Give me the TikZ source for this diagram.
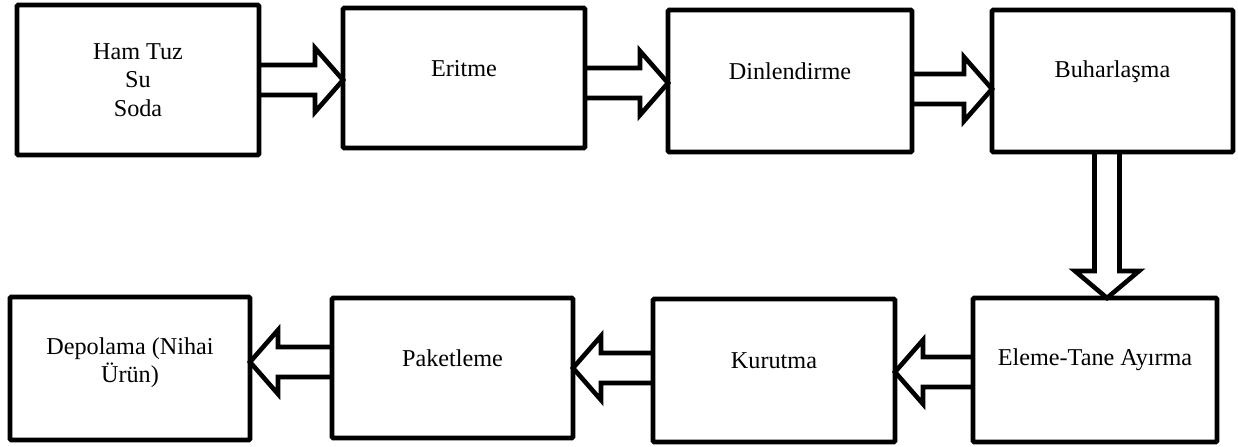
\documentclass[tikz,border=0pt]{standalone}
\usepackage{fontspec}
\setmainfont{Liberation Serif}
\usetikzlibrary{calc}
\tikzset{
  box/.style={draw, line width=2.4pt, inner sep=0pt, outer sep=0pt, rounded corners=0.6pt},
  lbl/.style={font=\fontsize{12.1}{14.3}\selectfont, align=center, inner sep=0pt},
  fat/.style={draw, line width=2.3pt, line join=miter},
  fatR/.style={fat, to path={
    ($(\tikztostart)+(0,-15)$) -- ($(\tikztotarget)+(-28,-15)$) -- ($(\tikztotarget)+(-28,-32)$) --
    (\tikztotarget) -- ($(\tikztotarget)+(-28,32)$) -- ($(\tikztotarget)+(-28,15)$) -- ($(\tikztostart)+(0,15)$)}},
  fatL/.style={fat, to path={
    ($(\tikztostart)+(0,-15)$) -- ($(\tikztotarget)+(28,-15)$) -- ($(\tikztotarget)+(28,-32)$) --
    (\tikztotarget) -- ($(\tikztotarget)+(28,32)$) -- ($(\tikztotarget)+(28,15)$) -- ($(\tikztostart)+(0,15)$)}},
  fatD/.style={fat, to path={
    ($(\tikztostart)+(-12.5,0)$) -- ($(\tikztotarget)+(-12.5,-27)$) -- ($(\tikztotarget)+(-32,-27)$) --
    (\tikztotarget) -- ($(\tikztotarget)+(32,-27)$) -- ($(\tikztotarget)+(12.5,-27)$) -- ($(\tikztostart)+(12.5,0)$)}},
}
\begin{document}
\begin{tikzpicture}[x=0.5pt, y=-0.5pt]
\useasboundingbox[fill=white] (0,0) rectangle (1238,446);
% top row
\node[box, minimum width=121pt, minimum height=75pt,
  label={[lbl, yshift=0pt]center:Ham Tuz\\Su\\Soda}] (b1) at (138,80) {};
\node[box, minimum width=121pt, minimum height=70pt,
  label={[lbl, yshift=4.5pt]center:Eritme}] (b2) at (464,78) {};
\node[box, minimum width=122pt, minimum height=71pt,
  label={[lbl, yshift=5pt]center:Dinlendirme}] (b3) at (790,81) {};
\node[box, minimum width=120.5pt, minimum height=71pt,
  label={[lbl, yshift=4.5pt]center:Buharla\c{s}ma}] (b4) at (1112.5,81) {};
% bottom row
\node[box, minimum width=122pt, minimum height=72pt,
  label={[lbl, yshift=5pt]center:Eleme-Tane Ay\i rma}] (b5) at (1095,370) {};
\node[box, minimum width=121pt, minimum height=71.5pt,
  label={[lbl, yshift=5pt]center:Kurutma}] (b6) at (774,370.5) {};
\node[box, minimum width=120.5pt, minimum height=70pt,
  label={[lbl, yshift=5pt]center:Paketleme}] (b7) at (452.5,368) {};
\node[box, minimum width=120pt, minimum height=71.5pt,
  label={[lbl, yshift=3pt]center:Depolama (Nihai\\\"Ur\"un)}] (b8) at (130,368.5) {};
% connector end points
\coordinate (a1s) at (b1.east |- 0,80);  \coordinate (a1t) at (b2.west |- 0,80);
\coordinate (a2s) at (b2.east |- 0,83);  \coordinate (a2t) at (b3.west |- 0,83);
\coordinate (a3s) at (b3.east |- 0,89);  \coordinate (a3t) at (b4.west |- 0,89);
\coordinate (a4s) at (b4.south -| 1107,0); \coordinate (a4t) at (b5.north -| 1107,0);
\coordinate (a5s) at (b5.west |- 0,372); \coordinate (a5t) at (b6.east |- 0,372);
\coordinate (a6s) at (b6.west |- 0,368); \coordinate (a6t) at (b7.east |- 0,368);
\coordinate (a7s) at (b7.west |- 0,362); \coordinate (a7t) at (b8.east |- 0,362);
\draw[fatR] (a1s) to (a1t);
\draw[fatR] (a2s) to (a2t);
\draw[fatR] (a3s) to (a3t);
\draw[fatD] (a4s) to (a4t);
\draw[fatL] (a5s) to (a5t);
\draw[fatL] (a6s) to (a6t);
\draw[fatL] (a7s) to (a7t);
\end{tikzpicture}
\end{document}
